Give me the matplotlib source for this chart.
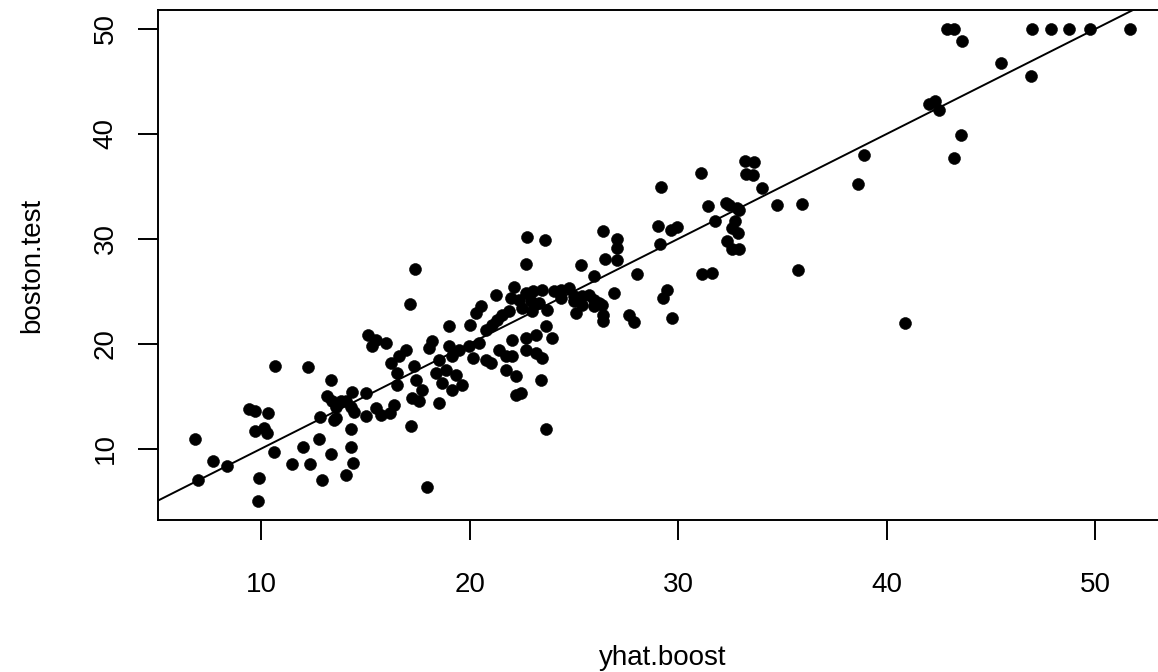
import matplotlib
matplotlib.use('Agg')
import matplotlib.pyplot as plt

yhat_boost = [
    10.67, 12.25, 13.35, 6.84, 7.70, 8.37, 6.98, 9.90, 9.86, 9.43,
    9.71, 10.34, 9.71, 10.14, 10.29, 10.62, 11.49, 12.01, 12.35, 12.78,
    12.92, 13.35, 14.07, 14.31, 14.41, 14.31, 12.83, 13.16, 13.40, 13.59,
    13.83, 14.07, 14.31, 13.59, 13.50, 14.36, 15.03, 14.45, 15.03, 15.51,
    15.75, 16.18, 16.37, 16.23, 16.52, 16.52,
    17.36, 22.71, 17.14, 22.12, 21.25, 22.68, 23.03, 23.48, 24.04, 22.92,
    23.32, 23.72, 21.96, 22.36, 22.52, 23.00, 20.53, 20.29, 19.01, 20.01,
    20.77, 21.08, 21.32, 21.56, 21.88, 22.04, 22.68, 23.16, 23.64, 23.96,
    22.68, 23.16, 23.48, 15.97, 16.93, 16.61, 19.01, 19.49, 19.97, 20.45,
    20.13, 20.77, 21.01, 21.40, 21.72, 22.01, 18.53, 19.17, 18.37, 18.85,
    19.33, 18.69, 19.65, 19.17, 17.33, 17.41, 17.73, 17.25, 17.57, 18.53,
    21.72, 22.20, 23.40, 22.20, 22.44, 18.05, 18.21,
    17.17, 23.64, 17.94,
    31.10, 29.17, 33.19, 33.22, 31.40, 32.27, 32.42, 32.82, 32.90, 31.74,
    32.74, 32.58, 32.85, 32.34, 32.55, 32.90, 29.02, 29.63, 29.95, 29.12,
    26.39, 27.07, 27.04, 26.47, 27.07, 25.35, 25.96, 28.03, 31.15, 31.62,
    29.44, 29.28, 26.93, 29.71, 27.63, 27.87, 26.39, 26.39, 24.36, 24.76,
    24.36, 24.99, 25.40, 25.72, 24.99, 25.40, 25.08, 25.96, 26.20, 25.96,
    26.35,
    42.00, 42.30, 42.50, 38.89, 38.59, 33.62, 33.57, 34.02, 34.74, 35.91,
    35.73, 40.86,
    42.89, 43.20, 43.60, 46.96, 47.87, 48.72, 49.72, 51.64, 45.47, 46.91,
    43.57, 43.20,
    15.10, 15.50, 15.32, 22.73, 23.60,
]
boston_test = [
    17.9, 17.8, 16.5, 10.95, 8.86, 8.3, 7.0, 7.2, 5.0, 13.8,
    13.6, 13.4, 11.7, 12.0, 11.5, 9.7, 8.5, 10.2, 8.5, 10.95,
    7.0, 9.5, 7.5, 10.2, 8.6, 11.9, 13.05, 15.05, 14.5, 14.0,
    14.5, 14.5, 14.0, 12.95, 12.7, 15.4, 15.3, 13.5, 13.15, 13.9,
    13.2, 13.4, 14.2, 18.2, 17.2, 16.1,
    27.16, 27.57, 23.79, 25.41, 24.61, 24.84, 25.0, 25.16, 25.0, 24.04,
    23.89, 23.25, 24.37, 24.2, 23.41, 23.09, 23.57, 22.94, 21.73, 21.82,
    21.34, 21.82, 22.3, 22.77, 23.09, 20.39, 20.55, 20.87, 21.66, 20.55,
    19.44, 19.12, 18.65, 20.08, 19.44, 18.8, 19.75, 19.44, 19.75, 20.08,
    18.65, 18.48, 18.17, 19.44, 18.8, 18.8, 18.48, 18.8, 17.22, 17.53,
    17.05, 16.26, 16.1, 15.62, 17.85, 16.58, 15.62, 14.83, 14.51, 14.36,
    17.53, 16.89, 16.58, 15.15, 15.31, 19.6, 20.23,
    12.13, 11.91, 6.31,
    36.28, 34.98, 37.39, 36.19, 33.1, 33.42, 33.26, 32.95, 32.78, 31.67,
    31.67, 31.04, 30.56, 29.76, 29.07, 29.07, 31.26, 30.88, 31.13, 29.47,
    30.78, 29.99, 29.13, 28.08, 28.02, 27.54, 26.49, 26.68, 26.68, 26.75,
    25.16, 24.37, 24.84, 22.46, 22.77, 22.04, 22.77, 22.14, 25.16, 25.32,
    24.37, 24.52, 24.52, 24.68, 24.04, 23.73, 22.94, 24.2, 23.89, 23.57,
    23.73,
    42.8, 43.1, 42.3, 37.96, 35.26, 37.29, 36.05, 34.79, 33.26, 33.36,
    27.06, 21.98,
    50.0, 50.0, 48.89, 50.0, 50.0, 50.0, 50.0, 50.0, 46.77, 45.49,
    39.87, 37.7,
    20.87, 20.32, 19.82, 30.14, 29.86,
]
x_ticks = [10, 20, 30, 40, 50]
y_ticks = [10, 20, 30, 40, 50]

plt.rcParams['font.family'] = ['Liberation Sans', 'DejaVu Sans']

W, H = 1158, 672
fig = plt.figure(figsize=(W / 100, H / 100), dpi=100)
# box runs past the right edge of the image, like the original
ax = fig.add_axes([158 / W, (H - 520) / H, 1009 / W, 510 / H])

ax.plot(yhat_boost, boston_test, 'o', color='black', markersize=8.6,
        markeredgewidth=0.4)
ax.axline((0, 0), slope=1, color='black', linewidth=1.4)

ax.set_xlim(5.05, 53.43)
ax.set_ylim(3.2, 51.8)
ax.set_xticks(x_ticks)
ax.set_yticks(y_ticks)
ax.tick_params(axis='both', length=14.4, width=1.4, labelsize=20)
ax.tick_params(axis='x', pad=23)
ax.tick_params(axis='y', pad=14, labelrotation=90)
for lbl in ax.get_yticklabels():
    lbl.set_va('center')
for sp in ax.spines.values():
    sp.set_linewidth(1.4)

ax.set_xlabel('yhat.boost', fontsize=20, labelpad=34)
ax.set_ylabel('boston.test', fontsize=20, labelpad=34)

fig.savefig('out.png', dpi=100)
